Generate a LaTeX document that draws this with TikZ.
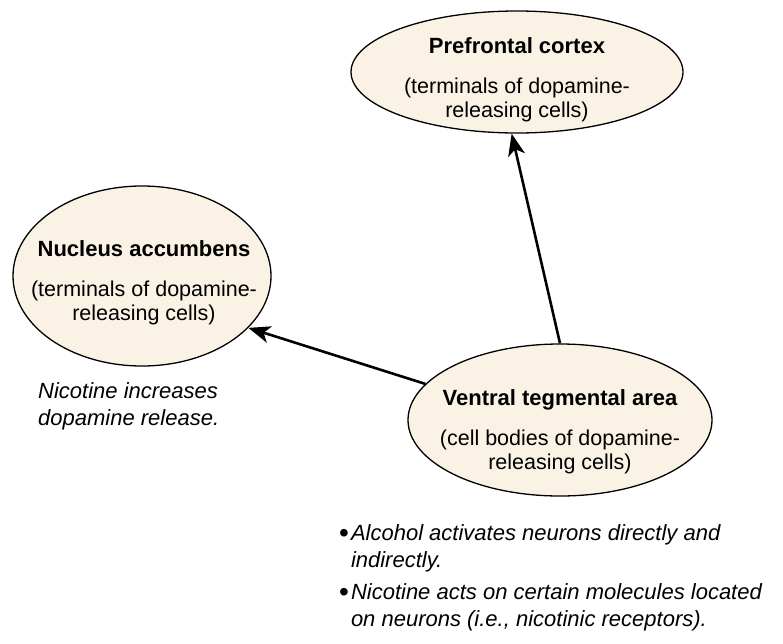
\documentclass[tikz,border=0pt]{standalone}
\usepackage{fontspec}
\setmainfont{Liberation Sans}
\usetikzlibrary{shapes.geometric,arrows.meta}
\definecolor{cream}{RGB}{250,243,229}
\tikzset{
  region/.style={ellipse,draw,line width=1.3pt,fill=cream},
  regiontext/.style={align=center,font=\fontsize{21.5}{24}\selectfont},
  note/.style={align=left,anchor=north west,inner sep=0pt,font=\fontsize{22}{27.5}\selectfont\itshape},
  link/.style={line width=2.6pt,-{Stealth[length=22pt,width=17pt,inset=6pt]}}
}
\newcommand{\regtitle}[1]{{\fontsize{22}{24}\selectfont\bfseries #1}\\[16pt]}
\newcommand{\bul}{\raisebox{-2.5pt}{\fontsize{28}{27.5}\selectfont\textup{\textbullet}}\hspace{2pt}}

\begin{document}
\begin{tikzpicture}[x=1pt,y=-1pt, line join=round]
\useasboundingbox (0,0) rectangle (783,643);
% regions
\node[region,minimum width=332pt,minimum height=122pt] (pfc) at (517,72) {};
\node[region,minimum width=258pt,minimum height=180pt] (nacc) at (142,276) {};
\node[region,minimum width=304pt,minimum height=152pt] (vta) at (560,420) {};
\node[regiontext] (pfctext) at (517,80) {\regtitle{Prefrontal cortex}(terminals of dopamine-\\releasing cells)};
\node[regiontext] (nacctext) at (144,283) {\regtitle{Nucleus accumbens}(terminals of dopamine-\\releasing cells)};
\node[regiontext] (vtatext) at (560,432) {\regtitle{Ventral tegmental area}(cell bodies of dopamine-\\releasing cells)};
% pathways
\draw[link] (vta.165) -- (nacc.-26);
\draw[link] (vta.north) -- (pfc.265);
% notes
\node[note] (nicnote) at (38,382) {Nicotine increases\\dopamine release.};
\node[note] (effects) at (339,524) {\bul Alcohol activates neurons directly and\\
  \hphantom{\bul}indirectly.\\[4pt]
  \bul Nicotine acts on certain molecules located\\
  \hphantom{\bul}on neurons (i.e., nicotinic receptors).};
%	\draw[help lines] (0,0) grid[step=50] (783,643);
\end{tikzpicture}
\end{document}
